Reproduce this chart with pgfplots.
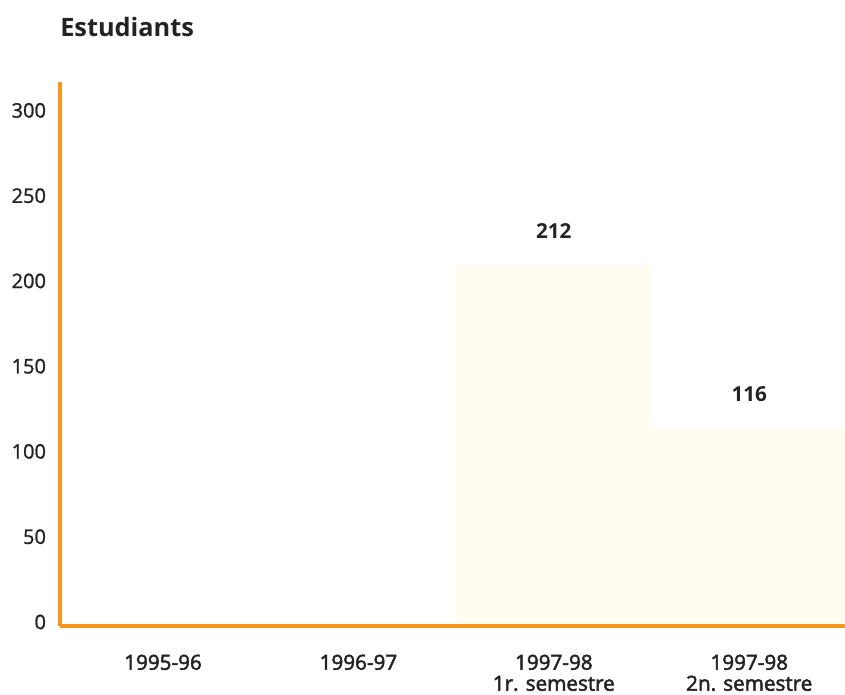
\documentclass[border=0pt]{standalone}
\usepackage{pgfplots}
\pgfplotsset{compat=1.18}
\usepackage{fontspec}
\setmainfont{Open Sans}
\newfontfamily\semib{Open Sans}[FakeBold=2.5]
\newfontfamily\medw{Open Sans}[FakeBold=1.2]
\definecolor{axorange}{RGB}{247,148,29}
\definecolor{barcream}{RGB}{255,252,242}
\definecolor{txt}{RGB}{35,35,35}
\begin{document}
\begin{tikzpicture}
\begin{axis}[
  scale only axis,
  width=588.75pt, height=408pt,
  xmin=-0.527, xmax=3.49,
  ymin=0, ymax=319,
  axis x line=bottom, axis y line=left,
  axis on top,
  every outer x axis line/.append style={-, draw=axorange, line width=2.6pt},
  every outer y axis line/.append style={-, draw=axorange, line width=2.6pt},
  major tick length=0pt,
  ytick={0,50,100,150,200,250,300},
  xtick={0,1,2,3},
  xticklabels={1995-96,1996-97,{1997-98\\1r. semestre},{1997-98\\2n. semestre}},
  x tick label style={align=center, anchor=north, yshift=-18pt, font=\semib\fontsize{15.5}{15.75}\selectfont, text=txt},
  y tick label style={anchor=east, xshift=-7pt, yshift=3pt, font=\medw\fontsize{15}{16}\selectfont, text=txt},
  /pgf/number format/assume math mode=true,
  ybar, bar width=146.6pt, bar shift=0pt,
  clip=false,
]
\addplot[fill=barcream, draw=none] coordinates {(0,0) (1,0)};
\addplot[fill=barcream, draw=none,
  nodes near coords,
  every node near coord/.append style={anchor=south, yshift=16pt, font=\bfseries\fontsize{15.5}{16}\selectfont, text=txt}]
  coordinates {(2,212) (3,116)};
\end{axis}
\node[anchor=west, inner sep=0pt, font=\bfseries\fontsize{19}{21}\selectfont, text=txt] at (0pt,449pt) {Estudiants};
\pgfresetboundingbox
\path (-45pt,-51pt) rectangle (588.75pt,469.5pt);
\end{tikzpicture}
\end{document}
